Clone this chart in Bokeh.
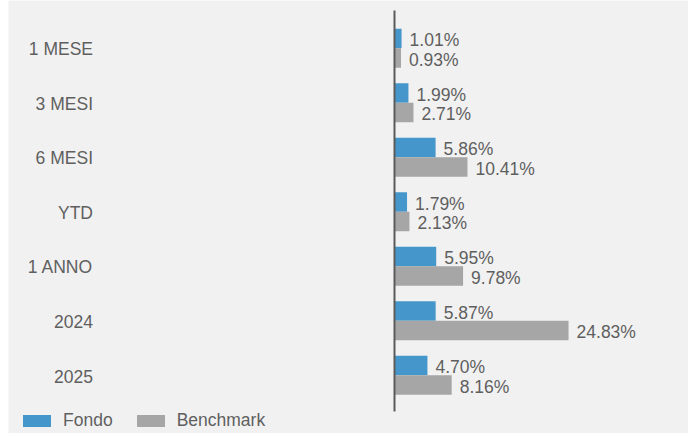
from bokeh.plotting import figure
from bokeh.models import ColumnDataSource, Range1d, Legend, LegendItem
from bokeh.core.properties import value
from bokeh.embed import file_html
from bokeh.resources import INLINE

categories = ["1 MESE", "3 MESI", "6 MESI", "YTD", "1 ANNO", "2024", "2025"]
fondo = [1.01, 1.99, 5.86, 1.79, 5.95, 5.87, 4.70]
benchmark = [0.93, 2.71, 10.41, 2.13, 9.78, 24.83, 8.16]
series_names = ["Fondo", "Benchmark"]

BG = "#f1f1f1"
BLUE = "#4597cb"
GRAY = "#a6a6a6"
TXT = "#5f5f5f"
FONT = "Liberation Sans"
FS = "17.5px"

W, H = 688, 433
LEFT = 8
frame_w = W - LEFT
zero_px = 394.0 - LEFT
px_per_unit = 7.01
bar_h = 0.357
y_top = -0.875
y_bot = 7.070

idx = list(range(len(categories)))
src_f = ColumnDataSource(dict(
    y=[i - bar_h / 2 for i in idx], v=fondo,
    lab=[f"{v:.2f}%" for v in fondo]))
src_b = ColumnDataSource(dict(
    y=[i + bar_h / 2 for i in idx], v=benchmark,
    lab=[f"{v:.2f}%" for v in benchmark]))
src_c = ColumnDataSource(dict(y=idx, lab=categories))

p = figure(width=W, height=H,
           x_range=Range1d(-zero_px / px_per_unit, (frame_w - zero_px) / px_per_unit),
           y_range=Range1d(y_bot, y_top),
           output_backend="svg", toolbar_location=None,
           x_axis_type=None, y_axis_type=None,
           min_border=0, min_border_left=LEFT)
p.background_fill_color = BG
p.border_fill_color = "white"
p.outline_line_color = None

rf = p.hbar(y="y", right="v", left=0, height=bar_h, source=src_f,
            fill_color=BLUE, line_color=None)
rb = p.hbar(y="y", right="v", left=0, height=bar_h, source=src_b,
            fill_color=GRAY, line_color=None)

# vertical axis line
p.segment(x0=[0], y0=[-0.692], x1=[0], y1=[6.666], line_color="#5a5a5a", line_width=2)

for s in (src_f, src_b):
    p.text(x="v", y="y", text="lab", source=s, x_offset=8, y_offset=2,
           text_font=value(FONT), text_font_size=FS, text_color=TXT,
           text_baseline="middle", text_align="left")

cat_x = (92.5 - LEFT - zero_px) / px_per_unit
p.text(x=cat_x, y="y", text="lab", source=src_c, y_offset=1,
       text_font=value(FONT), text_font_size=FS, text_color=TXT,
       text_baseline="middle", text_align="right")

legend = Legend(items=[LegendItem(label=series_names[0], renderers=[rf]),
                       LegendItem(label=series_names[1], renderers=[rb])],
                orientation="horizontal", location=(11, 2),
                glyph_width=35, glyph_height=15, label_standoff=9, spacing=20,
                padding=0, margin=0, background_fill_alpha=0,
                border_line_color=None, label_text_font=FONT,
                label_text_font_size=FS, label_text_color=TXT)
p.add_layout(legend)

open("out.html", "w").write(file_html(p, INLINE))
